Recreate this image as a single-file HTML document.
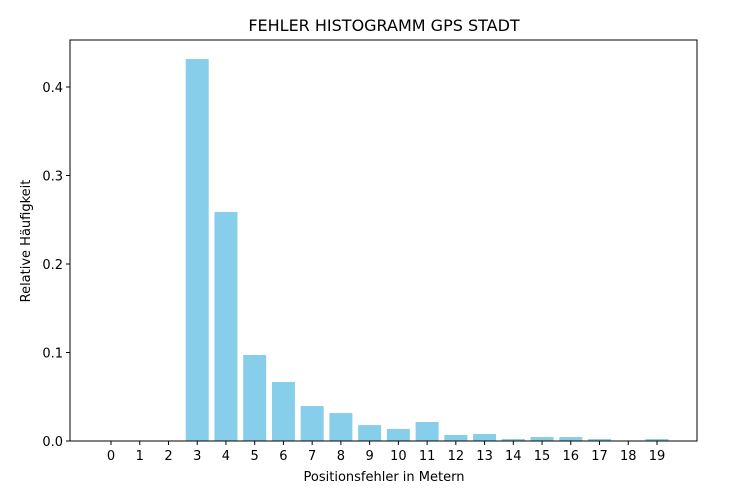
<!DOCTYPE html>
<html><head><meta charset="utf-8"><style>
body{margin:0;background:#fff;}
svg text{font-family:"DejaVu Sans","Liberation Sans",sans-serif;fill:#000;}
</style></head><body>
<svg id="chart" width="735" height="494">
<text x="384" y="31" font-size="16" text-anchor="middle">FEHLER HISTOGRAMM GPS STADT</text>
<g id="bars"></g>
<g id="axes"></g>
<text x="384" y="481" font-size="13" text-anchor="middle">Positionsfehler in Metern</text>
<text transform="translate(30,241) rotate(-90)" font-size="13" text-anchor="middle">Relative Häufigkeit</text>
</svg>
<script>
const categories=[0,1,2,3,4,5,6,7,8,9,10,11,12,13,14,15,16,17,18,19];
const values=[0,0,0,0.4316,0.2588,0.0972,0.0667,0.0395,0.0316,0.018,0.0136,0.0215,0.0068,0.0079,0.0023,0.0045,0.0045,0.0023,0,0.0023];
const yTicks=[0.0,0.1,0.2,0.3,0.4];
const yTickLabels=["0.0","0.1","0.2","0.3","0.4"];
const NS="http://www.w3.org/2000/svg";
const L=70,R=697,T=40,B=441;
const x=c=>111+(c-0)*(657-111)/19;
const y=v=>B-v*885;
const bw=0.8*(657-111)/19;
function mk(tag,attrs,parent){const e=document.createElementNS(NS,tag);for(const k in attrs)e.setAttribute(k,attrs[k]);parent.appendChild(e);return e;}
const bars=document.getElementById('bars'),axes=document.getElementById('axes');
categories.forEach((c,i)=>{
 const r=mk('rect',{x:x(c)-bw/2,y:y(values[i]),width:bw,height:B-y(values[i]),fill:'#87ceeb'},bars);
 
 
 const t=mk('line',{x1:x(c),x2:x(c),y1:B,y2:B+4,stroke:'#000','stroke-width':1},axes);
 
 
 const l=mk('text',{x:x(c),y:B+19,'font-size':13,'text-anchor':'middle'},axes);
 l.textContent=c;
 
 
});
yTicks.forEach((v,i)=>{
 const t=mk('line',{x1:L-4,x2:L,y1:y(v),y2:y(v),stroke:'#000','stroke-width':1},axes);
 
 
 const l=mk('text',{x:L-7,y:y(v)+5,'font-size':13,'text-anchor':'end'},axes);
 l.textContent=yTickLabels[i];
 
 
});
const f=mk('rect',{x:L,y:T,width:R-L,height:B-T,fill:'none',stroke:'#000','stroke-width':1},axes);


</script>
</body></html>
